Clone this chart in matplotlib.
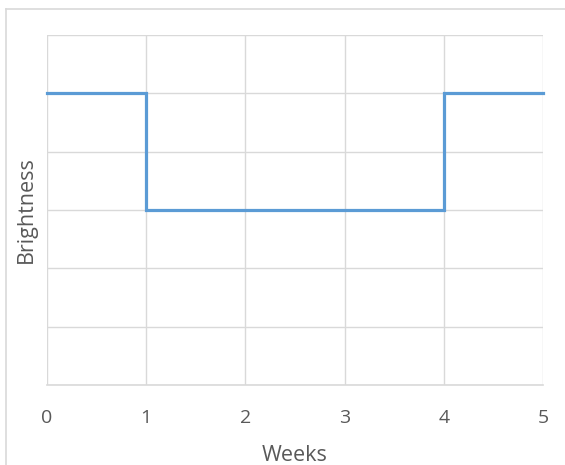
import matplotlib
matplotlib.use("Agg")
import matplotlib.pyplot as plt
from matplotlib.lines import Line2D

plt.rcParams['font.family'] = ['Open Sans', 'DejaVu Sans']

weeks = [0, 1, 4, 5]
brightness = [5, 3, 5, 5]
x_ticks = [0, 1, 2, 3, 4, 5]
y_grid = [0, 1, 2, 3, 4, 5, 6]

GRID = '#d9d9d9'
TEXT = '#595959'
LINE = '#5b9bd5'

W, H = 565, 465
fig = plt.figure(figsize=(W / 100, H / 100), dpi=100)
fig.patch.set_facecolor('white')

# chart frame
fig.add_artist(Line2D([6 / W, 6 / W], [0, 1 - 9 / H], transform=fig.transFigure,
                      color=GRID, lw=1.2))
fig.add_artist(Line2D([6 / W, 1], [1 - 9 / H, 1 - 9 / H], transform=fig.transFigure,
                      color=GRID, lw=1.2))

left, right, top, bottom = 47, 543, 35, 385
ax = fig.add_axes([left / W, 1 - bottom / H, (right - left) / W, (bottom - top) / H])

ax.step(weeks, brightness, where='post', color=LINE, lw=2.3, solid_joinstyle='miter',
        zorder=3, clip_on=False)

ax.set_xlim(0, 5)
ax.set_ylim(0, 6)
ax.set_xticks(x_ticks)
ax.set_yticks(y_grid)
ax.set_yticklabels([])
ax.grid(True, color=GRID, lw=1.0)
ax.set_axisbelow(True)
for s in ['top', 'right', 'left']:
    ax.spines[s].set_visible(False)
ax.spines['bottom'].set_color(GRID)
ax.spines['bottom'].set_linewidth(1.2)
ax.tick_params(axis='both', length=0)
ax.tick_params(axis='x', pad=17, labelsize=14, labelcolor=TEXT)

ax.set_xlabel('Weeks', fontsize=15.5, color=TEXT, labelpad=13)
ax.set_ylabel('Brightness', fontsize=15.5, color=TEXT, labelpad=4)

fig.savefig('out.png', dpi=100, facecolor='white')
